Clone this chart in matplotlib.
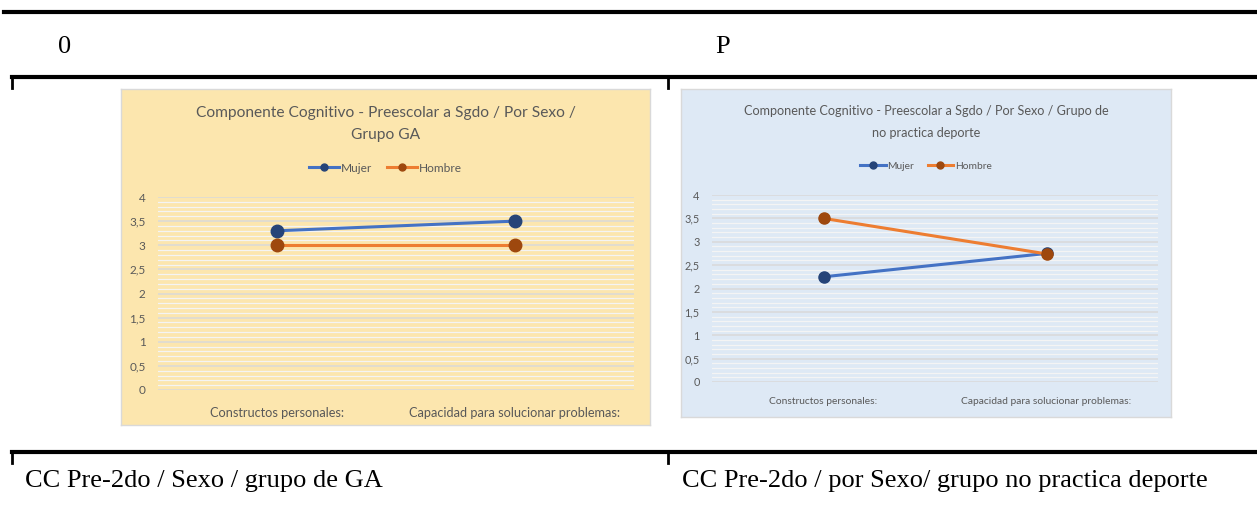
import numpy as np
import matplotlib.pyplot as plt
from matplotlib.lines import Line2D
from matplotlib.ticker import MultipleLocator, FuncFormatter

W, H = 1257, 516

categorias = ["Constructos personales:", "Capacidad para solucionar problemas:"]
series = ["Mujer", "Hombre"]

# Grupo GA
ga_mujer = [3.3, 3.5]
ga_hombre = [3.0, 3.0]

# Grupo no practica deporte
np_mujer = [2.25, 2.75]
np_hombre = [3.5, 2.74]

titulo_ga = "Componente Cognitivo - Preescolar a Sgdo / Por Sexo /\nGrupo GA"
titulo_np = "Componente Cognitivo - Preescolar a Sgdo / Por Sexo / Grupo de\nno practica deporte"
cabeceras = ["0", "P"]
pies = ["CC Pre-2do / Sexo / grupo de GA", "CC Pre-2do / por Sexo/ grupo no practica deporte"]

AZUL, AZUL_OSC = "#4472C4", "#264478"
NARANJA, NARANJA_OSC = "#ED7D31", "#9E480E"
GRIS = "#595959"


def fx(x):
    return x / W


def fy(y):
    return 1 - y / H


def rect(x0, y0, x1, y1):
    return [fx(x0), fy(y1), (x1 - x0) / W, (y1 - y0) / H]


fig = plt.figure(figsize=(W / 100, H / 100), dpi=100)
fig.patch.set_facecolor("white")


# table lines
def hline(y, x0, x1, lw=3):
    fig.add_artist(Line2D([fx(x0), fx(x1)], [fy(y), fy(y)], color="black", lw=lw))


def vline(x, y0, y1, lw=2):
    fig.add_artist(Line2D([fx(x), fx(x)], [fy(y0), fy(y1)], color="black", lw=lw))


hline(12, 4, 1257)
hline(77, 12, 1257)
hline(452, 12, 1257)
for x in (12, 668):
    vline(x, 76, 88)
    vline(x, 451, 463)

serif = "Liberation Serif"
fig.text(fx(65), fy(47), cabeceras[0], family=serif, fontsize=19, ha="center", va="center")
fig.text(fx(723), fy(47), cabeceras[1], family=serif, fontsize=19, ha="center", va="center")
fig.text(fx(25), fy(481), pies[0], family=serif, fontsize=19, ha="left", va="center")
fig.text(fx(682), fy(481), pies[1], family=serif, fontsize=19, ha="left", va="center")

coma = FuncFormatter(lambda v, p: ("%g" % v).replace(".", ","))


def grafico(caja, plot, fondo, titulo, mujer, hombre, tfs, lfs, tick_fs, xfs, ms, tit_y, leg_y,
            xlab_pad, ls):
    bg = fig.add_axes(rect(*caja))
    bg.set_facecolor(fondo)
    bg.set_xticks([])
    bg.set_yticks([])
    for s in bg.spines.values():
        s.set_color("#D9D9D9")
        s.set_linewidth(1)
    cx = (caja[0] + caja[2]) / 2
    fig.text(fx(cx), fy(tit_y), titulo, family="Lato", fontsize=tfs, color=GRIS,
             ha="center", va="center", linespacing=ls)

    ax = fig.add_axes(rect(*plot))
    ax.set_facecolor("none")
    x = np.arange(len(categorias))
    ax.plot(x, mujer, color=AZUL, lw=2.2, marker="o", ms=ms, mfc=AZUL_OSC, mec=AZUL_OSC,
            label=series[0], zorder=3)
    ax.plot(x, hombre, color=NARANJA, lw=2.2, marker="o", ms=ms, mfc=NARANJA_OSC, mec=NARANJA_OSC,
            label=series[1], zorder=3)
    ax.set_xlim(-0.5, 1.5)
    ax.set_ylim(0, 4)
    ax.yaxis.set_major_locator(MultipleLocator(0.5))
    ax.yaxis.set_minor_locator(MultipleLocator(0.1))
    ax.yaxis.set_major_formatter(coma)
    ax.grid(axis="y", which="major", color="#D9D9D9", lw=1.1)
    ax.grid(axis="y", which="minor", color="#F4F4F4", lw=0.9)
    ax.set_axisbelow(True)
    ax.set_xticks(x)
    ax.set_xticklabels(categorias, family="Lato", fontsize=xfs, color=GRIS)
    for lab in ax.get_yticklabels():
        lab.set_family("Lato")
        lab.set_fontsize(tick_fs)
        lab.set_color(GRIS)
    ax.tick_params(axis="both", which="both", length=0)
    ax.tick_params(axis="x", pad=xlab_pad)
    ax.tick_params(axis="y", pad=9)
    for s in ax.spines.values():
        s.set_visible(False)

    leg = fig.legend(handles=ax.get_lines(), loc="center", bbox_to_anchor=(fx(cx), fy(leg_y)),
                     ncol=2, frameon=False, handlelength=2.5, handletextpad=0.15,
                     columnspacing=1.3, prop={"family": "Lato", "size": lfs})
    for t in leg.get_texts():
        t.set_color(GRIS)
    for h in leg.legend_handles:
        h.set_markersize(5)
    return ax


grafico((121, 89, 650, 425), (158, 197, 634, 390), "#FCE6AE", titulo_ga, ga_mujer, ga_hombre,
        tfs=11.2, lfs=8.6, tick_fs=8.5, xfs=9.2, ms=9, tit_y=124, leg_y=168, xlab_pad=12, ls=1.75)
grafico((681, 89, 1171, 417), (712, 195, 1158, 382), "#DEE9F5", titulo_np, np_mujer, np_hombre,
        tfs=9.1, lfs=7.4, tick_fs=7.8, xfs=7.4, ms=8, tit_y=122, leg_y=166, xlab_pad=11, ls=1.95)

fig.savefig("out.png", dpi=100)
